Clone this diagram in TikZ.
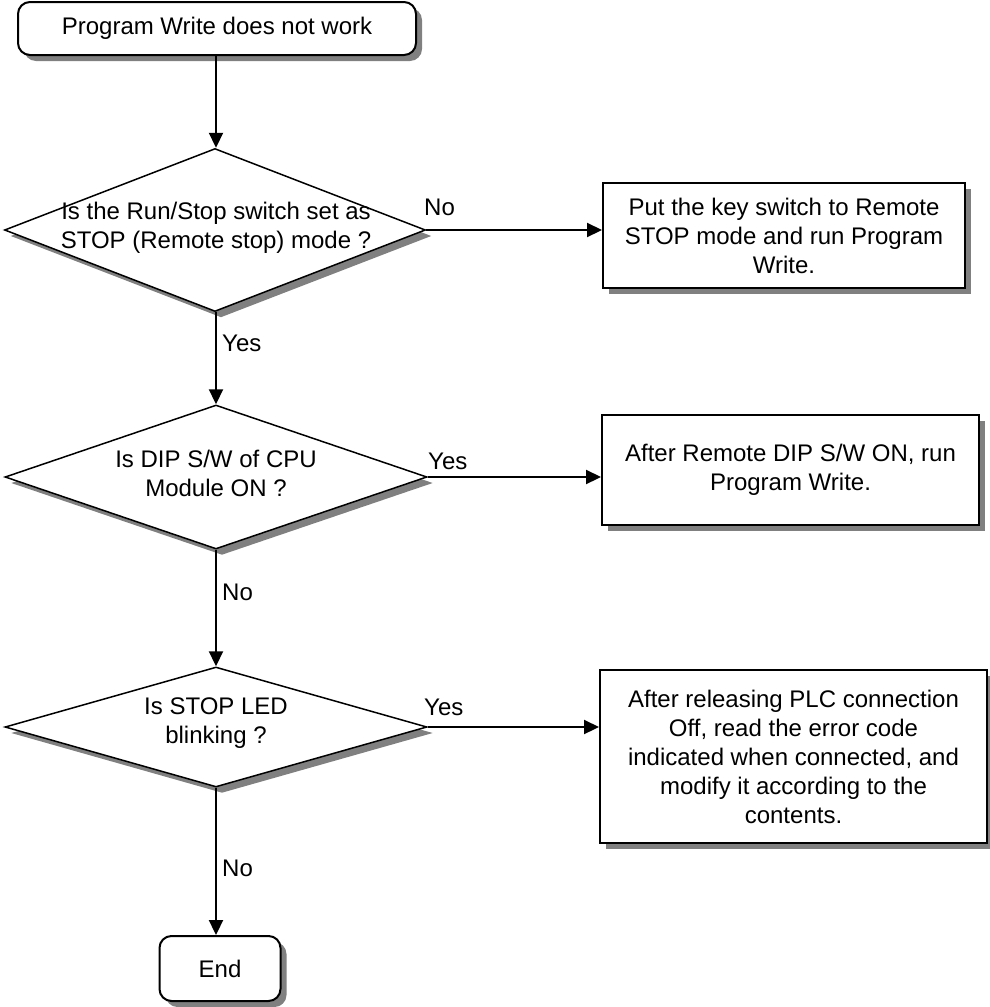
\documentclass[tikz,border=0pt]{standalone}
\usepackage{fontspec}
\setmainfont{Liberation Sans}
\usetikzlibrary{shapes.geometric,shadows,arrows.meta}
\begin{document}
\begin{tikzpicture}[x=1pt,y=-1pt,
  shade/.style={general shadow={fill=black!50, shadow xshift=6pt, shadow yshift=-6pt}},
  term/.style={draw, line width=2pt, rounded corners=12pt, fill=white, shade, inner sep=0pt},
  actbox/.style={draw, line width=2pt, fill=white, shade, inner sep=0pt},
  dec/.style={draw, diamond, line width=1.5pt, fill=white, shade, inner sep=0pt},
  txt/.style={align=center, font=\fontsize{24}{29}\selectfont, inner sep=0pt},
  lbl/.style={anchor=west, font=\fontsize{24}{29}\selectfont, inner sep=0pt},
  arr/.style={line width=2.2pt, -{Triangle[length=15pt,width=14pt]}}
]
\useasboundingbox (0,0) rectangle (990,1007);

\node[term, minimum width=398pt, minimum height=53pt] (start) at (217,28.5) {};
\node[txt] (starttxt) at (start.center) {Program Write does not work};

\node[dec, minimum width=421pt, minimum height=163pt] (d1) at (215,230) {};
\node[txt] (d1txt) at (216,228) {Is the Run/Stop switch set as\\STOP (Remote stop) mode ?};

\node[actbox, minimum width=362pt, minimum height=105pt] (b1) at (784,235.5) {};
\node[txt] (b1txt) at (b1.center) {Put the key switch to Remote\\STOP mode and run Program\\Write.};

\node[dec, minimum width=422pt, minimum height=144pt] (d2) at (216,477) {};
\node[txt] (d2txt) at (216,473) {Is DIP S/W of CPU\\Module ON ?};

\node[actbox, minimum width=377pt, minimum height=110pt] (b2) at (790.5,470) {};
\node[txt] (b2txt) at (b2.center) {After Remote DIP S/W ON, run\\Program Write.};

\node[dec, minimum width=422pt, minimum height=120pt] (d3) at (216,727) {};
\node[txt] (d3txt) at (216,723) {Is STOP LED\\blinking ?};

\node[actbox, minimum width=387pt, minimum height=173pt] (b3) at (793.5,756.5) {};
\node[txt] (b3txt) at (b3.center) {After releasing PLC connection\\Off, read the error code\\indicated when connected, and\\modify it according to the\\contents.};

\node[term, minimum width=121pt, minimum height=65pt] (endn) at (220,968.5) {};
\node[txt] (endtxt) at (endn.center) {End};

\draw[arr] (start.south -| 216,0) -- (d1.north -| 216,0);
\draw[arr] (d1.south -| 216,0) -- (d2.north -| 216,0);
\draw[arr] (d2.south -| 216,0) -- (d3.north -| 216,0);
\draw[arr] (d3.south -| 216,0) -- (endn.north -| 216,0);

\draw[arr] (d1.east) -- (b1.west |- d1.east);
\draw[arr] (d2.east) -- (b2.west |- d2.east);
\draw[arr] (d3.east) -- (b3.west |- d3.east);

\node[lbl] (l1) at (424,207) {No};
\node[lbl] (l2) at (222,343) {Yes};
\node[lbl] (l3) at (428,461) {Yes};
\node[lbl] (l4) at (222,592) {No};
\node[lbl] (l5) at (424,707) {Yes};
\node[lbl] (l6) at (222,868) {No};
\end{tikzpicture}
\end{document}
